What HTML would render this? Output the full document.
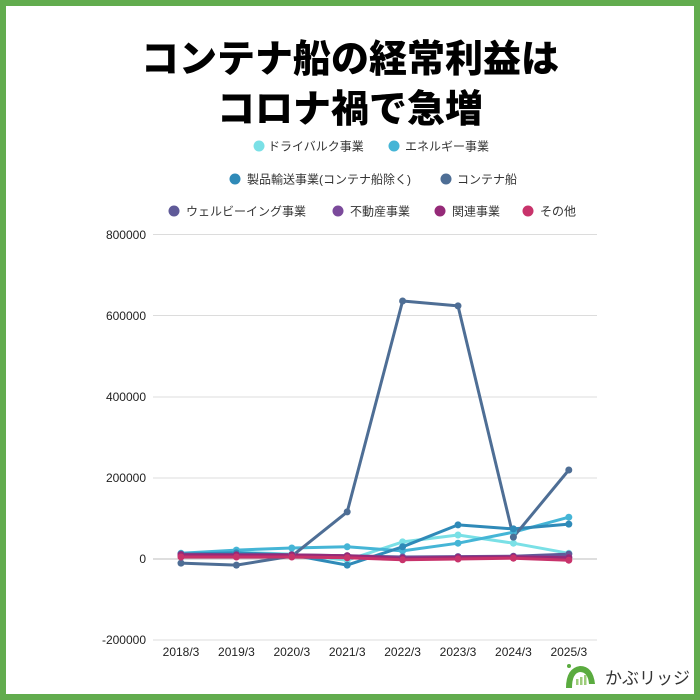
<!DOCTYPE html>
<html><head><meta charset="utf-8">
<style>
html,body{margin:0;padding:0;background:#fff;}
body{width:700px;height:700px;overflow:hidden;position:relative;}
.frame{position:absolute;left:0;top:0;width:688px;height:688px;border:6px solid #62ac4e;background:#fff;}
.title{position:absolute;left:0;top:0;width:700px;text-align:center;font-family:"Liberation Sans","Noto Sans CJK JP",sans-serif;font-weight:900;font-size:38px;color:#000;line-height:73px;}
svg{position:absolute;left:0;top:0;}
</style></head>
<body>
<div class="frame"></div>
<div class="title" style="top:24px;">コンテナ船の経常利益は</div>
<div class="title" style="top:74px;">コロナ禍で急増</div>
<svg width="700" height="700" viewBox="0 0 700 700" xmlns="http://www.w3.org/2000/svg" font-family="Liberation Sans, Noto Sans CJK JP, sans-serif">
  <!-- legend -->
  <g font-size="12" fill="#333">
    <circle cx="259" cy="146" r="5.5" fill="#7ae0e6"/><text x="268" y="150.5">ドライバルク事業</text>
    <circle cx="394" cy="146" r="5.5" fill="#45b5d6"/><text x="405" y="150.5">エネルギー事業</text>
    <circle cx="235" cy="179" r="5.5" fill="#2f8ab8"/><text x="247" y="183.5">製品輸送事業(コンテナ船除く)</text>
    <circle cx="446" cy="179" r="5.5" fill="#4e6e95"/><text x="457" y="183.5">コンテナ船</text>
    <circle cx="174" cy="211" r="5.5" fill="#5f5a98"/><text x="186" y="215.5">ウェルビーイング事業</text>
    <circle cx="338" cy="211" r="5.5" fill="#7b4a9b"/><text x="350" y="215.5">不動産事業</text>
    <circle cx="440" cy="211" r="5.5" fill="#952a78"/><text x="452" y="215.5">関連事業</text>
    <circle cx="528" cy="211" r="5.5" fill="#c8336b"/><text x="540" y="215.5">その他</text>
  </g>
  <!-- grid -->
  <g stroke="#dcdcdc" stroke-width="1">
    <line x1="153" y1="234.5" x2="597" y2="234.5"/>
    <line x1="153" y1="315.5" x2="597" y2="315.5"/>
    <line x1="153" y1="397" x2="597" y2="397"/>
    <line x1="153" y1="478" x2="597" y2="478"/>
    <line x1="153" y1="559" x2="597" y2="559" stroke="#bdbdbd"/>
    <line x1="153" y1="640" x2="597" y2="640"/>
  </g>
  <g font-size="12" fill="#222" text-anchor="end">
    <text x="146" y="239">800000</text>
    <text x="146" y="320">600000</text>
    <text x="146" y="401">400000</text>
    <text x="146" y="482">200000</text>
    <text x="146" y="563">0</text>
    <text x="146" y="644">-200000</text>
  </g>
  <g font-size="12" fill="#222" text-anchor="middle">
    <text x="181" y="656">2018/3</text>
    <text x="236.4" y="656">2019/3</text>
    <text x="291.8" y="656">2020/3</text>
    <text x="347.2" y="656">2021/3</text>
    <text x="402.6" y="656">2022/3</text>
    <text x="458" y="656">2023/3</text>
    <text x="513.4" y="656">2024/3</text>
    <text x="568.8" y="656">2025/3</text>
  </g>
  <!-- series -->
  <g fill="none" stroke-width="3" stroke-linejoin="round">
    <polyline stroke="#7ae0e6" points="181,554.1 236.4,552.1 291.8,554.1 347.2,560.2 402.6,541.9 458,535 513.4,543.2 568.8,553.3"/>
    <polyline stroke="#45b5d6" points="181,553.3 236.4,550.1 291.8,548 347.2,546.8 402.6,550.9 458,543.2 513.4,532.2 568.8,517.2"/>
    <polyline stroke="#2f8ab8" points="181,554.1 236.4,552.9 291.8,554.9 347.2,565.1 402.6,546.8 458,524.9 513.4,528.9 568.8,524.1"/>
    <polyline stroke="#4e6e95" points="181,563.1 236.4,565.1 291.8,556.2 347.2,511.9 402.6,301 458,305.9 513.4,537.1 568.8,470"/>
    <polyline stroke="#5f5a98" points="181,554.1 236.4,554.9 291.8,554.9 347.2,555.7 402.6,557 458,556.6 513.4,556.2 568.8,554.1"/>
    <polyline stroke="#7b4a9b" points="181,555.7 236.4,555.7 291.8,555.7 347.2,557 402.6,557.8 458,557 513.4,556.6 568.8,557"/>
    <polyline stroke="#952a78" points="181,554.9 236.4,554.9 291.8,554.9 347.2,555.7 402.6,558.2 458,557.4 513.4,557 568.8,557.8"/>
    <polyline stroke="#c8336b" points="181,557 236.4,557 291.8,557 347.2,557.8 402.6,559.8 458,559 513.4,558.2 568.8,560.2"/>
  </g>
  <!-- markers -->
  <g fill="#7ae0e6"><circle cx="181" cy="554.1" r="3.5"/><circle cx="236.4" cy="552.1" r="3.5"/><circle cx="291.8" cy="554.1" r="3.5"/><circle cx="347.2" cy="560.2" r="3.5"/><circle cx="402.6" cy="541.9" r="3.5"/><circle cx="458" cy="535" r="3.5"/><circle cx="513.4" cy="543.2" r="3.5"/><circle cx="568.8" cy="553.3" r="3.5"/></g>
  <g fill="#45b5d6"><circle cx="181" cy="553.3" r="3.5"/><circle cx="236.4" cy="550.1" r="3.5"/><circle cx="291.8" cy="548" r="3.5"/><circle cx="347.2" cy="546.8" r="3.5"/><circle cx="402.6" cy="550.9" r="3.5"/><circle cx="458" cy="543.2" r="3.5"/><circle cx="513.4" cy="532.2" r="3.5"/><circle cx="568.8" cy="517.2" r="3.5"/></g>
  <g fill="#2f8ab8"><circle cx="181" cy="554.1" r="3.5"/><circle cx="236.4" cy="552.9" r="3.5"/><circle cx="291.8" cy="554.9" r="3.5"/><circle cx="347.2" cy="565.1" r="3.5"/><circle cx="402.6" cy="546.8" r="3.5"/><circle cx="458" cy="524.9" r="3.5"/><circle cx="513.4" cy="528.9" r="3.5"/><circle cx="568.8" cy="524.1" r="3.5"/></g>
  <g fill="#4e6e95"><circle cx="181" cy="563.1" r="3.5"/><circle cx="236.4" cy="565.1" r="3.5"/><circle cx="291.8" cy="556.2" r="3.5"/><circle cx="347.2" cy="511.9" r="3.5"/><circle cx="402.6" cy="301" r="3.5"/><circle cx="458" cy="305.9" r="3.5"/><circle cx="513.4" cy="537.1" r="3.5"/><circle cx="568.8" cy="470" r="3.5"/></g>
  <g fill="#5f5a98"><circle cx="181" cy="554.1" r="3.5"/><circle cx="236.4" cy="554.9" r="3.5"/><circle cx="291.8" cy="554.9" r="3.5"/><circle cx="347.2" cy="555.7" r="3.5"/><circle cx="402.6" cy="557" r="3.5"/><circle cx="458" cy="556.6" r="3.5"/><circle cx="513.4" cy="556.2" r="3.5"/><circle cx="568.8" cy="554.1" r="3.5"/></g>
  <g fill="#7b4a9b"><circle cx="181" cy="555.7" r="3.5"/><circle cx="236.4" cy="555.7" r="3.5"/><circle cx="291.8" cy="555.7" r="3.5"/><circle cx="347.2" cy="557" r="3.5"/><circle cx="402.6" cy="557.8" r="3.5"/><circle cx="458" cy="557" r="3.5"/><circle cx="513.4" cy="556.6" r="3.5"/><circle cx="568.8" cy="557" r="3.5"/></g>
  <g fill="#952a78"><circle cx="181" cy="554.9" r="3.5"/><circle cx="236.4" cy="554.9" r="3.5"/><circle cx="291.8" cy="554.9" r="3.5"/><circle cx="347.2" cy="555.7" r="3.5"/><circle cx="402.6" cy="558.2" r="3.5"/><circle cx="458" cy="557.4" r="3.5"/><circle cx="513.4" cy="557" r="3.5"/><circle cx="568.8" cy="557.8" r="3.5"/></g>
  <g fill="#c8336b"><circle cx="181" cy="557" r="3.5"/><circle cx="236.4" cy="557" r="3.5"/><circle cx="291.8" cy="557" r="3.5"/><circle cx="347.2" cy="557.8" r="3.5"/><circle cx="402.6" cy="559.8" r="3.5"/><circle cx="458" cy="559" r="3.5"/><circle cx="513.4" cy="558.2" r="3.5"/><circle cx="568.8" cy="560.2" r="3.5"/></g>
  <!-- logo -->
  <g>
    <path d="M566,688 Q566,668 580,666 Q593,666 595,684 L589,684 Q588,672 580,672 Q572,673 572,688 Z" fill="#5aab3f"/>
    <circle cx="569" cy="666" r="2" fill="#5aab3f"/>
    <rect x="576" y="679" width="2.5" height="6" fill="#9ccc7a"/>
    <rect x="580" y="677" width="2.5" height="8" fill="#9ccc7a"/>
    <rect x="584" y="675" width="2.5" height="10" fill="#9ccc7a"/>
    <text x="605" y="684" font-size="17" fill="#333">かぶリッジ</text>
  </g>
</svg>
</body></html>
